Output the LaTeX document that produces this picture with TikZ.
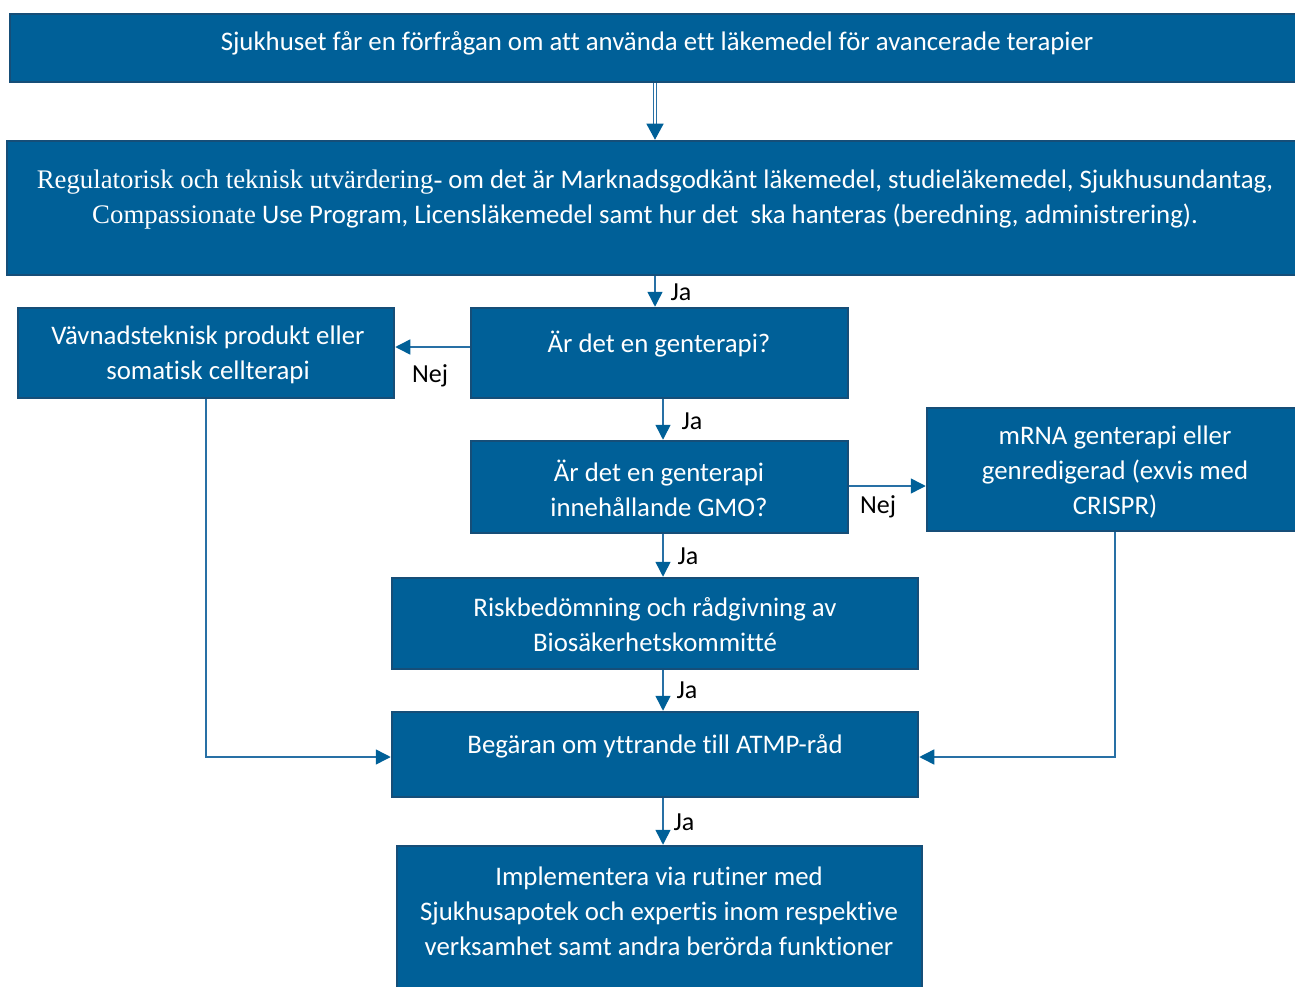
\documentclass[tikz,border=0pt]{standalone}
\usepackage{fontspec}
\setmainfont{Carlito}[Ligatures=CommonOff]
\newfontfamily\tnr{Liberation Serif}
\usetikzlibrary{arrows.meta,calc}
\definecolor{boxfill}{RGB}{0,96,152}
\definecolor{boxline}{RGB}{22,78,120}
\definecolor{conn}{RGB}{40,112,165}
\definecolor{tipc}{RGB}{0,96,152}
\tikzset{
  box/.style={draw=boxline, line width=2.5pt, fill=boxfill, rectangle, inner sep=0pt},
  txt/.style={text=white, align=center, font=\fontsize{26.8}{35}\selectfont, inner sep=0pt},
  lbl/.style={text=black, font=\fontsize{26}{28}\selectfont, inner sep=0pt},
  conn/.style={draw=conn, line width=1.5pt, -{Triangle[length=15pt,width=15pt,fill=tipc,color=tipc]}},
  dconn/.style={draw=conn, line width=1.2pt, double=white, double distance=2.4pt, -{Triangle[length=16pt,width=17pt,fill=tipc,color=tipc]}}
}
\begin{document}
\begin{tikzpicture}[x=1pt,y=-1pt]
\useasboundingbox (0,0) rectangle (1295,987);
\clip (0,0) rectangle (1295,987);
% boxes
\node[box, minimum width=1290pt, minimum height=68pt] (top) at (655,48) {};
\node[box, minimum width=1293pt, minimum height=134pt] (reg) at (653.5,208) {};
\node[box, minimum width=376pt, minimum height=90pt] (vav) at (206,353) {};
\node[box, minimum width=377pt, minimum height=90pt] (gen) at (659.5,353) {};
\node[box, minimum width=377pt, minimum height=92pt] (gmo) at (659.5,487) {};
\node[box, minimum width=373pt, minimum height=123pt] (mrna) at (1113.5,469.5) {};
\node[box, minimum width=526pt, minimum height=91pt] (risk) at (655,623.5) {};
\node[box, minimum width=526pt, minimum height=85pt] (beg) at (655,754.5) {};
\node[box, minimum width=525pt, minimum height=154pt] (impl) at (659.5,923) {};
% texts
\node[txt] (topt) at (657,43) {Sjukhuset får en förfrågan om att använda ett läkemedel för avancerade terapier};
\node[txt] (regt) at (655,199.5) {{\tnr Regulatorisk och teknisk utvärdering-} om det är Marknadsgodkänt läkemedel, studieläkemedel, Sjukhusundantag,\\{\tnr Compassionate} Use Program, Licensläkemedel samt hur det\ \ ska hanteras (beredning, administrering).\hspace*{20pt}};
\node[txt] (vavt) at (208,354.5) {Vävnadsteknisk produkt eller\\somatisk cellterapi};
\node[txt] (gent) at (659,344) {Är det en genterapi?};
\node[txt] (gmot) at (659,488.5) {Är det en genterapi\\innehållande GMO?};
\node[txt] (mrnat) at (1115,472) {mRNA genterapi eller\\genredigerad (exvis med\\CRISPR)};
\node[txt] (riskt) at (655,624.5) {Riskbedömning och rådgivning av\\Biosäkerhetskommitté};
\node[txt] (begt) at (655,746) {Begäran om yttrande till ATMP-råd};
\node[txt] (implt) at (659,911) {Implementera via rutiner med\\Sjukhusapotek och expertis inom respektive\\verksamhet samt andra berörda funktioner};
% connectors
\draw[dconn] (top.south) -- (top.south |- reg.north);
\draw[conn] ([xshift=1.5pt]reg.south) -- ([xshift=-4.5pt]gen.north);
\draw[conn] ([yshift=6pt]gen.west) -- ([yshift=6pt]vav.east);
\draw[conn] ([xshift=3.5pt]gen.south) -- ([xshift=3.5pt]gmo.north);
\draw[conn] ([yshift=1pt]gmo.east) -- ([yshift=1pt]gmo.east -| mrna.west);
\draw[conn] ([xshift=3.5pt]gmo.south) -- ([xshift=8pt]risk.north);
\draw[conn] ([xshift=8pt]risk.south) -- ([xshift=8pt]beg.north);
\draw[conn] (vav.south) |- ([yshift=-2.5pt]beg.west);
\draw[conn] ([xshift=1.5pt]mrna.south) |- ([yshift=-2.5pt]beg.east);
\draw[conn] ([xshift=8pt]beg.south) -- ([xshift=3.5pt]impl.north);
% labels
\node[lbl] (l1) at (681,292) {Ja};
\node[lbl] (l2) at (430,376) {Nej};
\node[lbl] (l3) at (692,421) {Ja};
\node[lbl] (l4) at (878,507) {Nej};
\node[lbl] (l5) at (688,556) {Ja};
\node[lbl] (l6) at (687,690) {Ja};
\node[lbl] (l7) at (684,822) {Ja};
\end{tikzpicture}
\end{document}
